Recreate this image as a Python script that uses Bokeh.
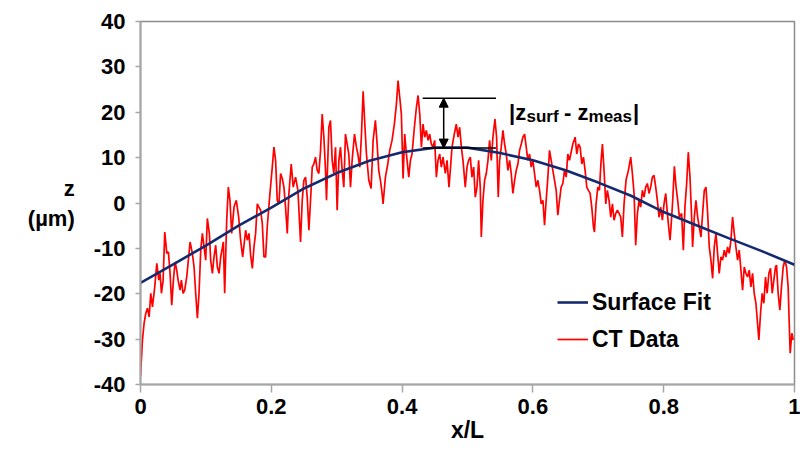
from bokeh.plotting import figure
from bokeh.models import (FixedTicker, Label, Arrow, NormalHead, Legend, LegendItem, Range1d)
from bokeh.embed import file_html
from bokeh.resources import INLINE

# ---------------- data ----------------
fit_x = [0.0, 0.05, 0.1, 0.15, 0.2, 0.25, 0.3, 0.35, 0.4, 0.45, 0.5, 0.55,
         0.6, 0.65, 0.7, 0.75, 0.8, 0.85, 0.9, 0.95, 1.0]
fit_z = [-17.6, -13.5, -9.4, -5.0, -1.0, 3.2, 6.6, 9.3, 11.2, 12.2, 12.2, 11.0,
         9.4, 7.2, 4.5, 1.6, -2.0, -4.9, -7.8, -10.6, -13.6]

ct_x = [0.0, 0.003, 0.0055, 0.0081, 0.0106, 0.0132, 0.0157, 0.0183, 0.0218, 0.0249,
        0.028, 0.030, 0.032, 0.0346, 0.0371, 0.0402, 0.0427, 0.0452, 0.0478, 0.0503,
        0.0529, 0.0554, 0.0575, 0.0605, 0.0625, 0.0651, 0.0676, 0.0707, 0.0758, 0.0793,
        0.0819, 0.0844, 0.087, 0.0895, 0.0921, 0.0946, 0.0972, 0.0997, 0.1022, 0.1053,
        0.1073, 0.1099, 0.1124, 0.115, 0.1175, 0.1201, 0.1226, 0.1267, 0.1287, 0.1318,
        0.1343, 0.1368, 0.1394, 0.143, 0.1465, 0.1501, 0.1531, 0.1562,
        0.1608, 0.1633, 0.1659, 0.1684, 0.171, 0.1735, 0.176, 0.1786, 0.1811, 0.1837,
        0.1862, 0.1888, 0.1913, 0.1938, 0.1979, 0.2015, 0.204, 0.2066, 0.2091, 0.2117,
        0.2142, 0.2168, 0.2193, 0.2218, 0.2244, 0.2269, 0.2305, 0.2335, 0.2371, 0.2407,
        0.2447, 0.2473, 0.2498, 0.2524, 0.2549, 0.2575, 0.26, 0.2626, 0.2651, 0.2676,
        0.2702, 0.2727, 0.2753, 0.2778, 0.2804, 0.2829, 0.2844, 0.288, 0.2905, 0.2931,
        0.2956, 0.2982, 0.3007, 0.3033, 0.3058, 0.3084, 0.3109, 0.3134, 0.316, 0.3185,
        0.3211, 0.3236,
        0.3272, 0.3302, 0.3323, 0.3353, 0.3379, 0.3404, 0.343, 0.3455, 0.3491, 0.3526,
        0.3557, 0.3592, 0.3618, 0.3643, 0.3669, 0.3694, 0.3709, 0.3745, 0.3781, 0.3811,
        0.3846, 0.3882, 0.3913, 0.3938, 0.3964, 0.3989, 0.4015, 0.404, 0.4066, 0.4102,
        0.4127, 0.4152, 0.4188, 0.4219, 0.4244, 0.427, 0.4295, 0.432, 0.4346, 0.4371,
        0.4397, 0.4422, 0.4447, 0.4473, 0.4498, 0.4524, 0.4549, 0.4575, 0.46, 0.4626,
        0.4661, 0.4687, 0.4717, 0.4737, 0.4763, 0.4798, 0.4829, 0.4855, 0.488, 0.4906,
        0.4931,
        0.4966, 0.4992, 0.5017, 0.5043, 0.5068, 0.5094, 0.5119, 0.5145, 0.517, 0.5195,
        0.5211, 0.5236, 0.5262, 0.5287, 0.5313, 0.5338, 0.5364, 0.5389, 0.542, 0.5445,
        0.547, 0.5491, 0.5516, 0.5542, 0.5567, 0.5593, 0.5618, 0.5644, 0.5669, 0.5694,
        0.572, 0.5745, 0.5771, 0.5796, 0.5822, 0.5847, 0.5873, 0.5898, 0.5923, 0.5949,
        0.5974, 0.6, 0.6025, 0.6051, 0.6076, 0.6102, 0.6127, 0.6153, 0.6178, 0.6203,
        0.6229, 0.6254, 0.628, 0.6305, 0.6331, 0.6356, 0.6381, 0.6407, 0.6432, 0.6458,
        0.6483, 0.6509, 0.6534, 0.656,
        0.661, 0.6646, 0.6671, 0.6697, 0.6722, 0.6748, 0.6773, 0.6798, 0.6824, 0.6849,
        0.6875, 0.69, 0.6926, 0.6941, 0.6966, 0.6992, 0.7017, 0.7043, 0.7063, 0.7088,
        0.7114, 0.7139, 0.7165, 0.719, 0.7216, 0.7241, 0.7267, 0.7292, 0.7318, 0.7343,
        0.7368, 0.7394, 0.7424, 0.746, 0.7496, 0.7521, 0.7547, 0.7572, 0.7598, 0.7623,
        0.7648, 0.7674, 0.7699, 0.7725, 0.775, 0.7776, 0.7801, 0.7827, 0.7852, 0.7878,
        0.7903, 0.7929, 0.7954, 0.798, 0.8005, 0.8031, 0.8056, 0.8081, 0.8097, 0.8112,
        0.8138, 0.8163, 0.8189, 0.8214, 0.8239,
        0.8274, 0.83, 0.8325, 0.8351, 0.8376, 0.8402, 0.8427, 0.8442, 0.8468, 0.8493,
        0.8519, 0.8544, 0.857, 0.8595, 0.8621, 0.8646, 0.8672, 0.8697, 0.8722, 0.8748,
        0.8773, 0.8799, 0.8824, 0.8849, 0.8875, 0.89, 0.8926, 0.8951, 0.8977, 0.9002,
        0.9028, 0.9053, 0.9079, 0.9104, 0.913, 0.9155, 0.9181, 0.9206, 0.9232, 0.9257,
        0.9282, 0.9308, 0.9333, 0.9359, 0.9384, 0.941, 0.9435, 0.9455, 0.9481, 0.9506,
        0.9531, 0.9557, 0.9582, 0.9608, 0.9633, 0.9659, 0.9684, 0.971, 0.9725, 0.975,
        0.9776, 0.9801, 0.9827, 0.9852, 0.9878, 0.9903, 0.9918, 0.9934, 0.9959, 0.998]
ct_z = [-38.1, -30.2, -26.5, -24.3, -23.2, -25.1, -19.9, -22.9, -18.5, -13.3,
        -17.0, -15.5, -19.9, -17.0, -6.4, -11.1, -10.8, -15.5, -22.5, -17.0,
        -13.0, -14.8, -17.0, -19.2, -17.0, -19.9, -19.2, -16.3, -8.6, -11.1,
        -14.1, -19.9, -25.4, -19.9, -10.4, -6.7, -9.7, -12.6, -3.4, -6.7,
        -12.6, -15.5, -11.9, -9.3, -14.1, -15.5, -11.9, -8.6, -19.9, -3.8,
        3.5, 0.6, -6.7, -0.9, 0.6, -3.1, -8.2, -11.9,
        -6.0, -8.2, -6.7, -11.5, -14.4, -9.7, -6.7, -0.2, -0.9, -1.6,
        -4.5, -11.9, -11.9, -5.3, 2.1, 7.9, 12.3, 9.4, 0.6, -0.2,
        6.5, 5.4, 3.5, -0.9, -6.7, 2.1, 8.6, 3.5, 5.7, 2.8,
        -8.6, 0.6, 5.0, 5.7, 1.3, -6.0, 0.6, 7.9, 8.6, 10.1,
        7.2, 6.5, 11.6, 19.6, 14.5, 7.2, 0.6, 16.7, 18.2, 9.4,
        6.5, 12.3, -1.6, 9.4, 12.3, 7.2, 3.5, 15.2, 13.0, 10.8,
        3.5, 9.4,
        15.2, 12.3, 10.8, 7.9, 15.2, 24.6, 17.4, 10.8, 5.0, 3.2,
        13.8, 18.2, 13.0, 7.2, 5.0, 2.1, -0.2, 5.7, 8.6, 11.6,
        13.8, 17.4, 21.8, 27.0, 23.3, 19.6, 5.4, 15.2, 10.8, 5.7,
        9.4, 10.8, 16.7, 21.1, 23.7, 19.6, 12.3, 17.4, 14.5, 16.0,
        13.8, 15.2, 13.0, 12.3, 13.8, 5.7, 9.4, 10.8, 7.9, 10.1,
        6.5, 9.4, 3.5, 7.2, 12.3, 15.2, 17.4, 14.5, 16.7, 12.3,
        9.4,
        3.5, 7.9, 9.4, 10.1, 5.7, 7.9, 1.3, 3.5, 9.4, 3.5,
        -7.5, 0.6, 5.0, 6.5, 9.4, 13.8, 9.4, 14.5, 18.5, 14.5,
        1.3, 9.4, 12.3, 16.0, 13.0, 10.8, 7.2, 9.4, 6.5, 2.1,
        5.0, 7.2, 8.6, 11.6, 13.0, 14.5, 15.2, 12.3, 9.4, 10.8,
        7.9, 9.4, 6.5, 3.5, 5.0, 2.8, -0.2, 0.6, -4.9, 0.6,
        5.7, 11.6, 9.4, 7.2, 5.0, 2.8, -2.7, 0.6, 3.5, 4.3,
        7.2, 5.7, 10.8, 9.4,
        13.0, 14.5, 10.8, 13.0, 12.3, 8.6, 10.1, 7.2, 3.5, 2.8,
        2.1, -0.9, -5.3, -6.4, -0.2, 3.5, 2.8, 9.4, 13.0, 7.2,
        -0.2, 2.8, 0.6, -3.1, -0.2, -3.8, -2.3, -1.6, -2.3, -3.1,
        -7.5, -0.2, 5.0, 7.2, 10.1, 6.5, 2.1, -9.3, -2.3, 0.6,
        -0.9, 2.8, 1.3, 3.5, 4.3, 2.1, 3.5, 5.7, 6.1, 3.5,
        0.6, -3.1, -0.9, -3.8, -0.2, 2.1, -2.3, -6.0, -8.2, -5.3,
        0.6, 8.1, 3.5, 0.6, -3.1,
        -2.3, -10.4, -0.9, 4.3, 11.2, 5.7, -3.1, -9.7, -3.1, 0.6,
        -3.1, -5.3, -7.5, -2.3, 2.8, 3.5, -2.3, -9.7, -12.6, -16.6,
        -9.7, -6.7, -11.1, -15.5, -11.9, -12.6, -10.4, -11.9, -9.7, -11.1,
        -8.2, -3.1, -6.7, -9.7, -12.6, -10.4, -14.8, -19.2, -14.1, -15.5,
        -16.3, -14.8, -18.5, -15.5, -19.9, -22.1, -26.5, -30.2, -24.3, -19.9,
        -22.1, -16.3, -19.9, -15.5, -14.4, -19.9, -17.0, -14.1, -13.7, -19.9,
        -23.6, -18.5, -14.1, -12.6, -14.1, -18.5, -25.8, -33.1, -28.7, -30.2]

x_ticks = [0.0, 0.2, 0.4, 0.6, 0.8, 1.0]
x_tick_labels = ["0", "0.2", "0.4", "0.6", "0.8", "1"]
y_ticks = [-40, -30, -20, -10, 0, 10, 20, 30, 40]
y_tick_labels = ["-40", "-30", "-20", "-10", "0", "10", "20", "30", "40"]

x_min, x_max = 0.0, 1.0
z_min, z_max = -40.0, 40.0

# annotation (difference marker)
ann_x = 0.4636
ann_lo = 12.1
ann_hi = 23.1
ann_x0, ann_x1 = 0.4315, 0.5436
ann_text_x = 0.5635
ann_text_z = 19.9

FONT = "Liberation Sans"
AXIS_GRAY = "#a6a6a6"

p = figure(width=800, height=455, output_backend="svg", toolbar_location=None,
           x_range=Range1d(x_min, x_max), y_range=Range1d(z_min, z_max),
           min_border_left=140, min_border_right=6, min_border_top=21,
           min_border_bottom=71, background_fill_color="white",
           border_fill_color="white")
p.styles = {"outline": "1px solid #d4d4d4", "outline-offset": "-4px"}
p.grid.visible = False
p.outline_line_color = "#8c8c8c"
p.outline_line_width = 1.5

for ax in (p.xaxis[0], p.yaxis[0]):
    ax.axis_line_color = AXIS_GRAY
    ax.axis_line_width = 2
    ax.major_tick_line_color = AXIS_GRAY
    ax.major_tick_line_width = 1.5
    ax.major_tick_in = 0
    ax.minor_tick_line_color = None
    ax.major_label_text_font = FONT
    ax.major_label_text_font_style = "bold"
    ax.major_label_text_font_size = "22px"
    ax.major_label_text_color = "black"
    ax.axis_label_text_font = FONT
    ax.axis_label_text_font_style = "bold"
    ax.axis_label_text_color = "black"

p.xaxis.ticker = FixedTicker(ticks=x_ticks)
p.xaxis.major_label_overrides = {t: l for t, l in zip(x_ticks, x_tick_labels)}
p.xaxis.major_tick_out = 8
p.xaxis.major_label_standoff = 6
p.xaxis.axis_label = "x/L"
p.xaxis.axis_label_text_font_size = "23px"
p.xaxis.axis_label_standoff = 0

p.yaxis.ticker = FixedTicker(ticks=y_ticks)
p.yaxis.major_label_overrides = {t: l for t, l in zip(y_ticks, y_tick_labels)}
p.yaxis.major_tick_out = 5
p.yaxis.major_label_standoff = 10
p.yaxis.axis_label = "z\n(µm)"
p.yaxis.axis_label_orientation = "horizontal"
p.yaxis.axis_label_text_font_size = "22px"
p.yaxis.axis_label_standoff = 16
p.yaxis.axis_label_text_align = "center"

r_ct = p.line(ct_x, ct_z, line_color="#ff0000", line_width=1.7)
r_fit = p.line(fit_x, fit_z, line_color="#142a6e", line_width=2.6)

legend = Legend(items=[LegendItem(label="Surface Fit", renderers=[r_fit]),
                       LegendItem(label="CT Data", renderers=[r_ct])],
                location=(417, 30), orientation="vertical",
                label_text_font=FONT, label_text_font_style="bold",
                label_text_font_size="23px", label_text_color="black",
                glyph_width=31, glyph_height=30, label_height=30,
                label_standoff=4, spacing=7, padding=0, margin=0,
                border_line_alpha=0, background_fill_alpha=0)
p.add_layout(legend)

# difference marker
p.segment(x0=[ann_x0, ann_x0], y0=[ann_lo, ann_hi], x1=[ann_x1, ann_x1],
          y1=[ann_lo, ann_hi], line_color="black", line_width=1.5)
p.add_layout(Arrow(start=NormalHead(size=9, fill_color="black", line_color="black"),
                   end=NormalHead(size=9, fill_color="black", line_color="black"),
                   x_start=ann_x, y_start=ann_lo, x_end=ann_x, y_end=ann_hi,
                   line_color="black", line_width=1.5))

def lab(text, x, y, size, xo=0, yo=0, align="left"):
    p.add_layout(Label(x=x, y=y, x_offset=xo, y_offset=yo, text=text,
                       text_font=FONT, text_font_style="bold",
                       text_font_size=size, text_color="black",
                       text_align=align, text_baseline="alphabetic"))

lab("|z", ann_text_x, ann_text_z, "22px")
lab("surf", ann_text_x, ann_text_z, "17px", xo=17.5, yo=-4)
lab("- z", ann_text_x, ann_text_z, "22px", xo=55)
lab("meas", ann_text_x, ann_text_z, "17px", xo=79.5, yo=-4)
lab("|", ann_text_x, ann_text_z, "22px", xo=124)

open("out.html", "w").write(file_html(p, INLINE))
